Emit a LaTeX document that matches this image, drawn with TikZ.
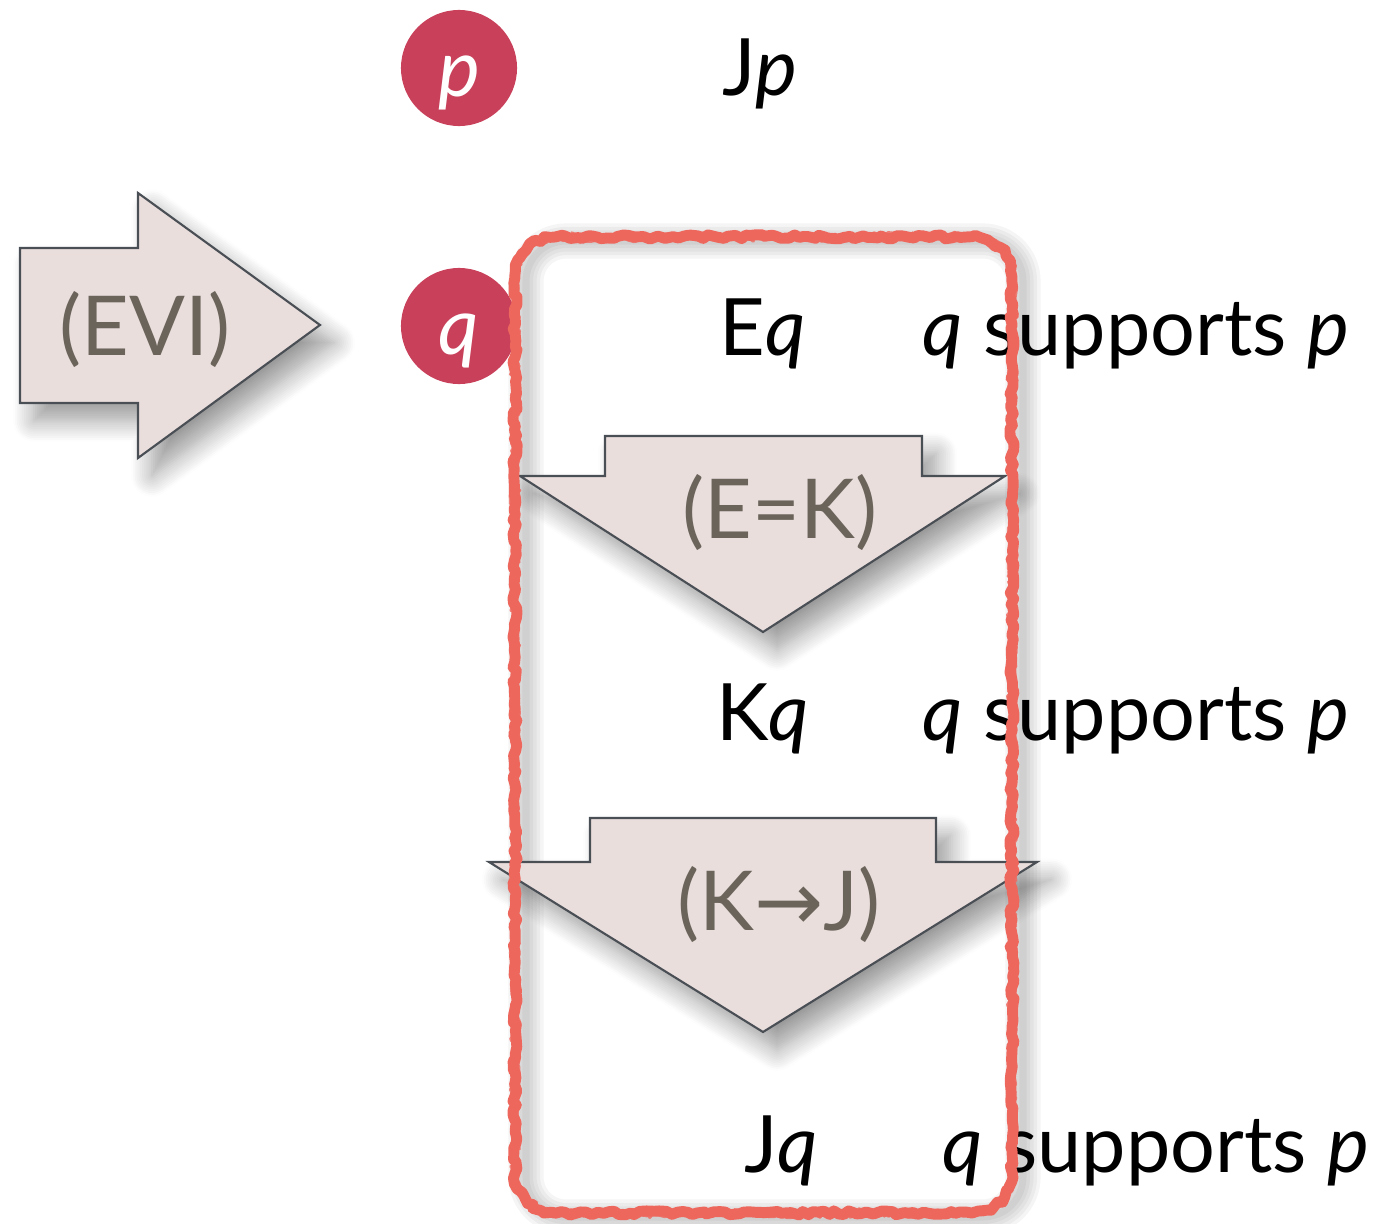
\documentclass[tikz,border=0pt]{standalone}
\usepackage{fontspec}
\setmainfont{Lato}
\newfontfamily\symfont{DejaVu Sans}
\usetikzlibrary{shadows.blur,decorations.pathmorphing}

\definecolor{tokenred}{HTML}{C8405A}
\definecolor{arrowfill}{HTML}{EADEDD}
\definecolor{arrowline}{HTML}{4A4F55}
\definecolor{rulegray}{HTML}{6A645A}
\definecolor{chalkred}{HTML}{EE675D}

\begin{document}
\begin{tikzpicture}[x=0.01cm,y=-0.01cm,
  font=\fontsize{22.5}{26}\selectfont,
  token/.style={circle,fill=tokenred,text=white,minimum size=1.16cm,inner sep=0pt,
    text height=0.56cm,text depth=0pt,font=\fontsize{22.5}{26}\selectfont\itshape},
  formula/.style={anchor=base,inner sep=0pt},
  blockarrow/.style={fill=arrowfill,draw=arrowline,line width=0.6pt,
    blur shadow={shadow xshift=4pt,shadow yshift=-5pt,shadow blur radius=6pt,
      shadow blur steps=12,shadow opacity=40}},
  rulename/.style={anchor=base,text=rulegray,inner sep=0pt,font=\fontsize{23.5}{27}\selectfont},
  chalk/.style={chalkred,line cap=round,line join=round}]
\useasboundingbox (0,0) rectangle (1378,1224);

% soft shadow of the chalk box
\foreach \w in {10,8,6,4,2}
  \draw[line width=\w pt,black,opacity=.04,rounded corners=0.4cm] (526,241) rectangle (1023,1217);

% Rule arrows
\draw[blockarrow] (20,248) -- (138,248) -- (138,193) -- (320,325) -- (138,458) -- (138,403) -- (20,403) -- cycle;
\node[rulename] (evi) at (145,355) {(EVI)};

\draw[blockarrow] (605,436) -- (922,436) -- (922,476) -- (1005,476) -- (763,632) -- (520,476) -- (605,476) -- cycle;
\node[rulename] (ek) at (780,538) {(E=K)};

\draw[blockarrow] (590,818) -- (936,818) -- (936,862) -- (1037,862) -- (763,1032) -- (489,862) -- (590,862) -- cycle;
\node[rulename] (kj) at (779,930) {(K{\symfont →}J)};

% Propositions
\node[token] (p) at (459,68) {p};
\node[token] (q) at (459,326) {q};

% Attitudes
\node[formula] (jp) at (760,95) {J\textit{p}};
\node[formula] (eq) at (763,355) {E\textit{q}};
\node[formula] (kq) at (763,740) {K\textit{q}};
\node[formula] (jq) at (781,1172) {J\textit{q}};

\node[formula,anchor=base west] (sup1) at (922,355) {\textit{q} supports \textit{p}};
\node[formula,anchor=base west] (sup2) at (922,740) {\textit{q} supports \textit{p}};
\node[formula,anchor=base west] (sup3) at (942,1172) {\textit{q} supports \textit{p}};

% Chalk box
\draw[chalk,line width=3.1pt] decorate[decoration={random steps,segment length=1.5pt,amplitude=.6pt}]
  {[rounded corners=0.4cm] (515,237) rectangle (1012,1213)};
\foreach \a in {1,1.3}
  \draw[chalk,line width=1pt,opacity=.8] decorate[decoration={random steps,segment length=1.2pt,amplitude=\a pt}]
    {[rounded corners=0.4cm] (515,237) rectangle (1012,1213)};
\end{tikzpicture}
\end{document}
